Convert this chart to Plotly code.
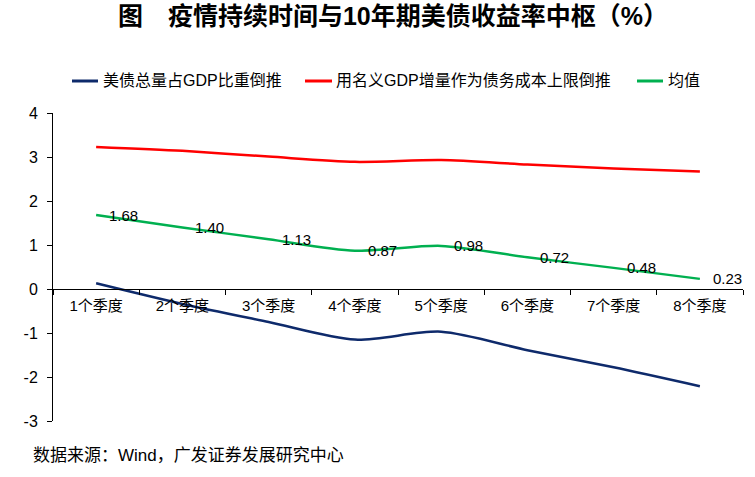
import plotly.graph_objects as go

categories = ["1个季度", "2个季度", "3个季度", "4个季度", "5个季度", "6个季度", "7个季度", "8个季度"]
series_names = ["美债总量占GDP比重倒推", "用名义GDP增量作为债务成本上限倒推", "均值"]
blue_vals = [0.13, -0.34, -0.75, -1.15, -0.97, -1.39, -1.78, -2.21]
red_vals = [3.23, 3.14, 3.01, 2.89, 2.93, 2.83, 2.74, 2.67]
green_vals = [1.68, 1.40, 1.13, 0.87, 0.98, 0.72, 0.48, 0.23]
y_ticks = [-3, -2, -1, 0, 1, 2, 3, 4]
y_tick_labels = ["-3", "-2", "-1", "0", "1", "2", "3", "4"]
title_text = "图　疫情持续时间与10年期美债收益率中枢（%）"
source_text = "数据来源：Wind，广发证券发展研究中心"

colors = ["#0E2A6B", "#FF0000", "#00B050"]
FONT = "Liberation Sans, Arial, Noto Sans CJK SC, sans-serif"

W, H = 755, 477
ML, MR, MT, MB = 53, 12, 113, 56
PW, PH = W - ML - MR, H - MT - MB


def px_to_paper_x(px):
    return (px - ML) / PW


def px_to_paper_y(py):
    return (H - MB - py) / PH


fig = go.Figure()
for name, vals, col in zip(series_names, [blue_vals, red_vals, green_vals], colors):
    fig.add_trace(go.Scatter(
        x=categories, y=vals, name=name, mode="lines",
        line=dict(color=col, width=2.5, shape="spline", smoothing=0.8),
        showlegend=False,
    ))

annotations = []
# data labels for the mean series
for c, v in zip(categories, green_vals):
    annotations.append(dict(
        x=c, y=v, text=f"{v:.2f}", showarrow=False,
        xanchor="left", yanchor="middle", xshift=11,
        font=dict(family=FONT, size=15, color="#000000"),
    ))

# manual legend (line samples + texts)
legend_items = [(72, 98, 101), (305, 332, 334), (637, 663, 666)]
shapes = []
leg_y = px_to_paper_y(81)
for (x0, x1, tx), name, col in zip(legend_items, series_names, colors):
    shapes.append(dict(type="line", xref="paper", yref="paper",
                       x0=px_to_paper_x(x0), x1=px_to_paper_x(x1), y0=leg_y, y1=leg_y,
                       line=dict(color=col, width=3)))
    annotations.append(dict(
        xref="paper", yref="paper", x=px_to_paper_x(tx), y=leg_y,
        text=name, showarrow=False, xanchor="left", yanchor="middle",
        font=dict(family=FONT, size=16, color="#000000"),
    ))

# source note
annotations.append(dict(
    xref="paper", yref="paper", x=px_to_paper_x(31), y=px_to_paper_y(455),
    text=source_text, showarrow=False, xanchor="left", yanchor="middle",
    font=dict(family=FONT, size=17, color="#000000"),
))

fig.update_layout(
    width=W, height=H,
    margin=dict(l=ML, r=MR, t=MT, b=MB, pad=0),
    paper_bgcolor="white", plot_bgcolor="white",
    title=dict(text=title_text, x=393 / W, xanchor="center", xref="container",
               y=1 - 16 / H, yanchor="middle", yref="container",
               font=dict(family=FONT, size=25, color="#000000", weight="bold")),
    font=dict(family=FONT, size=15, color="#000000"),
    showlegend=False,
    annotations=annotations,
    shapes=shapes,
    xaxis=dict(
        type="category", range=[-0.5, len(categories) - 0.5],
        anchor="free", position=(0 - y_ticks[0]) / (y_ticks[-1] - y_ticks[0]),
        showline=True, linecolor="#000000", linewidth=1,
        ticks="outside", ticklen=5, tickcolor="#000000", tickson="boundaries",
        showgrid=False, zeroline=False,
        tickfont=dict(family=FONT, size=15, color="#000000"),
        ticklabelstandoff=3,
    ),
    yaxis=dict(
        range=[y_ticks[0], y_ticks[-1]], tickvals=y_ticks, ticktext=y_tick_labels,
        showline=True, linecolor="#000000", linewidth=1,
        ticks="outside", ticklen=5, tickcolor="#000000",
        showgrid=False, zeroline=False,
        tickfont=dict(family=FONT, size=16, color="#000000"),
        ticklabelstandoff=6,
    ),
)

fig.write_html("out.html")
